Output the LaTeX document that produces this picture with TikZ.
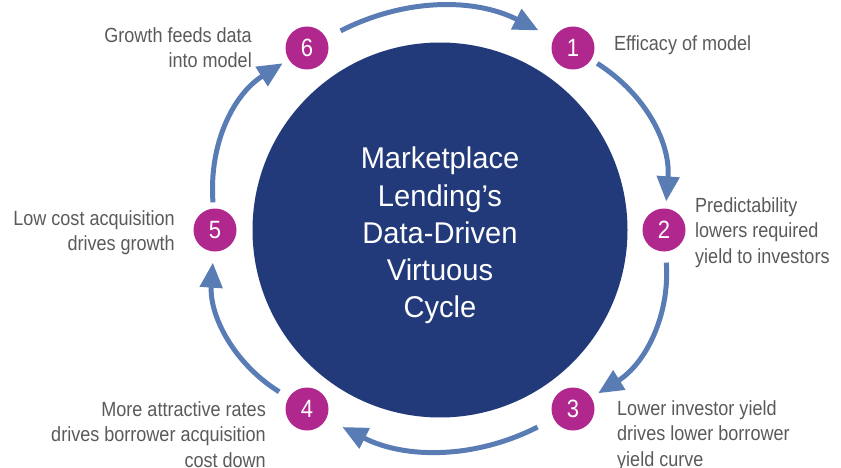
\documentclass[tikz,border=0pt]{standalone}
\usepackage{fontspec}
\setmainfont[FakeStretch=0.88]{Liberation Sans}
\newfontfamily\titlefont[FakeStretch=0.97]{Liberation Sans}
\usetikzlibrary{arrows.meta}
\definecolor{hubblue}{HTML}{233A7A}
\definecolor{dotpink}{HTML}{B0288E}
\definecolor{arrowblue}{HTML}{5A7CB4}
\definecolor{labelgray}{HTML}{5A5A5A}

\begin{document}
\begin{tikzpicture}[x=1pt,y=-1pt,
		dot/.style={circle,fill=dotpink,text=white,minimum size=43pt,inner sep=0pt,font=\fontsize{25}{25}\selectfont},
		lbl/.style={inner sep=0pt,text=labelgray,font=\fontsize{20.5}{25.5}\selectfont},
		cyc/.style={arrowblue,line width=5pt,-{Triangle[length=25pt,width=22pt]}},
		]
	\useasboundingbox (0,0) rectangle (841,468);
	\node[circle,fill=hubblue,minimum size=375pt,inner sep=0pt] (hub) at (440,230) {};
	\node[text=white,align=center,font=\titlefont\fontsize{30}{37.2}\selectfont] (title) at (440,235.5) {Marketplace\\Lending’s\\Data-Driven\\Virtuous\\Cycle};
	\node[dot] (n1) at (573,48) {1};
	\node[dot] (n2) at (664,230) {2};
	\node[dot] (n3) at (573,409) {3};
	\node[dot] (n4) at (307,409) {4};
	\node[dot] (n5) at (215,230) {5};
	\node[dot] (n6) at (307,48) {6};
	\draw[cyc,shorten <=16pt,shorten >=17pt] (n6) to[bend left=27] (n1);
	\draw[cyc,shorten <=7pt,shorten >=7pt] (n1) to[bend left=31] (n2);
	\draw[cyc,shorten <=11pt,shorten >=8pt] (n2) to[bend left=31] (n3);
	\draw[cyc,shorten <=18pt,shorten >=18pt] (n3) to[bend left=27] (n4);
	\draw[cyc,shorten <=11pt,shorten >=11pt] (n4) to[bend left=31] (n5);
	\draw[cyc,shorten <=6pt,shorten >=7pt] (n5) to[bend left=31] (n6);
	\node[lbl,anchor=north west] (t1) at (614,35) {Efficacy of model};
	\node[lbl,anchor=north west,align=left] (t2) at (695,197) {Predictability\\lowers required\\yield to investors};
	\node[lbl,anchor=north west,align=left] (t3) at (617,400) {Lower investor yield\\drives lower borrower\\yield curve};
	\node[lbl,anchor=north east,align=right] (t4) at (266,401) {More attractive rates\\drives borrower acquisition\\cost down};
	\node[lbl,anchor=north east,align=right] (t5) at (175,210) {Low cost acquisition\\drives growth};
	\node[lbl,anchor=north east,align=right] (t6) at (252,27) {Growth feeds data\\into model};
\end{tikzpicture}
\end{document}
